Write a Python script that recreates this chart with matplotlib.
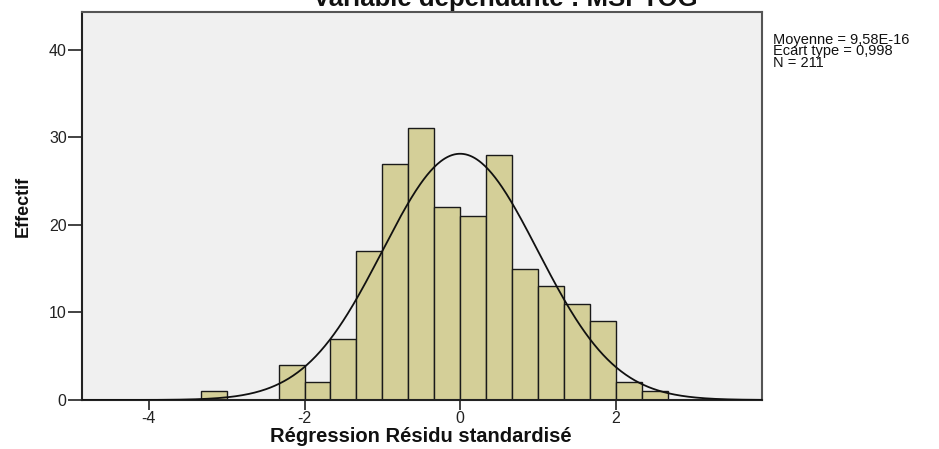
import numpy as np
import matplotlib
matplotlib.use("Agg")
import matplotlib.pyplot as plt
from matplotlib import font_manager

# ---- data ----
bin_width = 1.0 / 3.0
bin_index = [-10, -9, -8, -7, -6, -5, -4, -3, -2, -1, 0, 1, 2, 3, 4, 5, 6, 7]
counts    = [  1,  0,  0,  4,  2,  7, 17, 27, 31, 22, 21, 28, 15, 13, 11,  9,  2,  1]
mean_val = 9.58e-16
sd_val = 0.998
n_val = 211
x_ticks = [-4, -2, 0, 2]
y_ticks = [0, 10, 20, 30, 40]
title = "Variable dépendante : MSPTOG"
xlabel = "Régression Résidu standardisé"
ylabel = "Effectif"
stats_lines = ["Moyenne = 9,58E-16", "Ecart type = 0,998", "N = 211"]

names = {f.name for f in font_manager.fontManager.ttflist}
base = "Liberation Sans" if "Liberation Sans" in names else "DejaVu Sans"
narrow = "Liberation Sans Narrow" if "Liberation Sans Narrow" in names else base
plt.rcParams['font.family'] = [base, 'DejaVu Sans']

W, H = 939, 449
fig = plt.figure(figsize=(W / 100, H / 100), dpi=100)
fig.patch.set_facecolor("white")
ax = fig.add_axes([82 / W, 1 - 400 / H, (762 - 82) / W, (400 - 12) / H])
ax.set_facecolor("#F0F0F0")

left_edges = np.array(bin_index) * bin_width
ax.bar(left_edges, counts, width=bin_width, align="edge",
       color="#D4CF98", edgecolor="#1a1a1a", linewidth=1.0, zorder=2)

xs = np.linspace(-4.86, 3.88, 600)
pdf = np.exp(-0.5 * ((xs - mean_val) / sd_val) ** 2) / (sd_val * np.sqrt(2 * np.pi))
ax.plot(xs, n_val * bin_width * pdf, color="#111111", linewidth=1.3, zorder=3)

ax.set_xlim(-4.86, 3.88)
ax.set_ylim(0, 44.3)
ax.set_xticks(x_ticks)
ax.set_xticklabels([str(v) for v in x_ticks])
ax.set_yticks(y_ticks)
ax.set_yticklabels([str(v) for v in y_ticks])
ax.tick_params(axis="x", length=7, width=1.2, color="#222222", labelsize=11.5, pad=1, labelcolor="#222222")
ax.tick_params(axis="y", length=10, width=1.2, color="#222222", labelsize=11.5, pad=1, labelcolor="#222222")
for s in ["left", "bottom"]:
    ax.spines[s].set_color("#222222")
    ax.spines[s].set_linewidth(1.5)
for s in ["top", "right"]:
    ax.spines[s].set_color("#555555")
    ax.spines[s].set_linewidth(1.5)

fig.text(421 / W, 1 - 442 / H, xlabel, ha="center", va="baseline",
         fontsize=14.5, fontweight="bold", color="#111111")
ax.set_ylabel(ylabel, fontsize=13, fontweight="bold", color="#111111",
              family=[narrow, 'DejaVu Sans'], labelpad=12)

fig.text(505 / W, 1 - 6 / H, title, ha="center", va="baseline",
         fontsize=18.5, fontweight="bold", color="#111111")
fig.text(773 / W, 1 - 33 / H, "\n".join(stats_lines), ha="left", va="top",
         fontsize=10.5, color="#111111", linespacing=0.76)

fig.savefig("out.png", dpi=100, facecolor="white")
